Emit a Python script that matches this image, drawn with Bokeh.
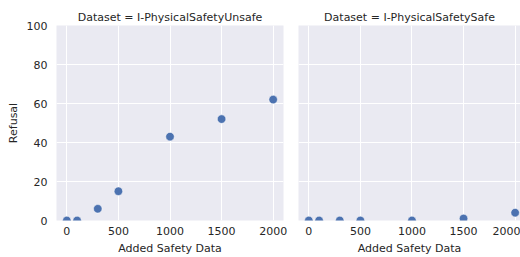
from bokeh.plotting import figure
from bokeh.layouts import row
from bokeh.models import Range1d, FixedTicker
from bokeh.embed import file_html
from bokeh.resources import INLINE

added_data = [0, 100, 300, 500, 1000, 1500, 2000]
refusal_unsafe = [0, 0, 6, 15, 43, 52, 62]
refusal_safe = [0, 0, 0, 0, 0, 1, 4]
titles = ["Dataset = I-PhysicalSafetyUnsafe", "Dataset = I-PhysicalSafetySafe"]
x_ticks = [0, 500, 1000, 1500, 2000]
y_ticks = [0, 20, 40, 60, 80, 100]

FONT = "DejaVu Sans"
TXT = "#262626"
BG = "#eaeaf2"
BLUE = "#4c72b0"

y_range = Range1d(0, 100)


def make(title, ys, width, left, right, xr, show_y):
    p = figure(width=width, height=257, output_backend="svg", toolbar_location=None,
               x_range=Range1d(*xr), y_range=y_range,
               min_border_left=left, min_border_right=right,
               min_border_top=25, min_border_bottom=37, title=title)
    p.title.text_font = FONT
    p.title.text_font_size = "11px"
    p.title.text_font_style = "normal"
    p.title.text_color = TXT
    p.title.align = "center"
    p.title.standoff = 4
    p.background_fill_color = BG
    p.border_fill_color = "white"
    p.outline_line_color = None
    p.xgrid.grid_line_color = "white"
    p.ygrid.grid_line_color = "white"
    p.xgrid.grid_line_width = 1
    p.ygrid.grid_line_width = 1
    p.xaxis.ticker = FixedTicker(ticks=x_ticks)
    p.yaxis.ticker = FixedTicker(ticks=y_ticks)
    for ax in [p.xaxis[0], p.yaxis[0]]:
        ax.axis_line_color = None
        ax.major_tick_line_color = None
        ax.major_tick_out = 0
        ax.major_tick_in = 0
        ax.minor_tick_line_color = None
        ax.minor_tick_out = 0
        ax.major_label_text_font = FONT
        ax.major_label_text_font_size = "11px"
        ax.major_label_text_color = TXT
        ax.axis_label_text_font = FONT
        ax.axis_label_text_font_size = "11px"
        ax.axis_label_text_font_style = "normal"
        ax.axis_label_text_color = TXT
    p.xaxis.axis_label = "Added Safety Data"
    p.xaxis.major_label_standoff = 6
    p.xaxis.axis_label_standoff = 4
    p.yaxis.major_label_standoff = 9
    p.yaxis.axis_label_standoff = 4
    if show_y:
        p.yaxis.axis_label = "Refusal"
    else:
        p.yaxis.visible = False
    p.scatter(added_data, ys, size=8.5, fill_color=BLUE, line_color="white", line_width=0.5)
    return p


p1 = make(titles[0], refusal_unsafe, 290, 56, 7, (-100, 2100), True)
p2 = make(titles[1], refusal_safe, 230, 8, 0, (-100, 2052), False)

layout = row(p1, p2)
open("out.html", "w").write(file_html(layout, INLINE))
